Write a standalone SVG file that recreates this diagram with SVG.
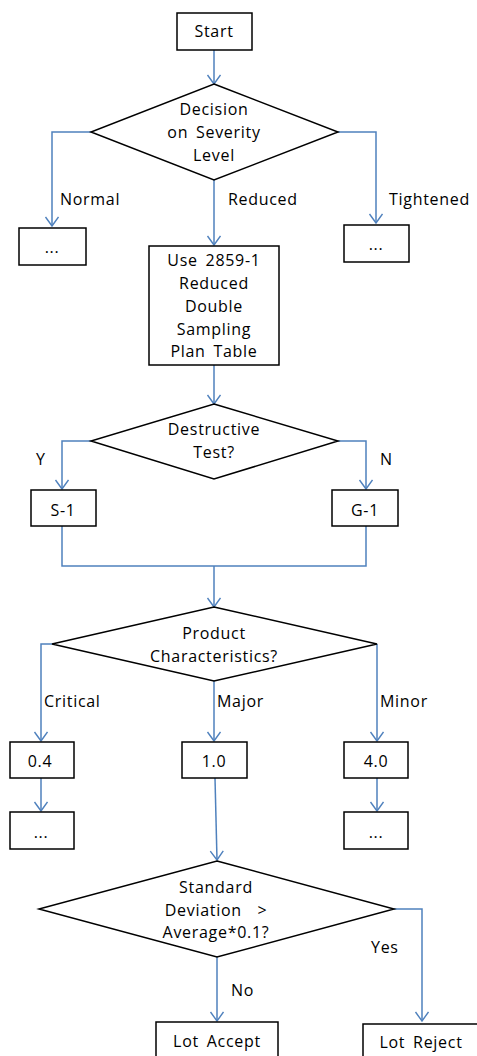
<svg xmlns="http://www.w3.org/2000/svg" width="477" height="1056" viewBox="0 0 477 1056">
<style>
.b{fill:#fff;stroke:#000;stroke-width:1.5}
.c{fill:none;stroke:#4f81bd;stroke-width:1.5}
text{font-family:"Open Sans","Noto Sans","DejaVu Sans",sans-serif;font-size:16px;fill:#000;letter-spacing:0.7px;word-spacing:3px}
.m{text-anchor:middle}
</style>
<defs>
<marker id="a" markerUnits="userSpaceOnUse" markerWidth="16" markerHeight="16" refX="10" refY="7" orient="auto">
<path d="M1,0.5 L10,7 L1,13.5" fill="none" stroke="#4f81bd" stroke-width="1.4"/>
</marker>
</defs>
<rect width="477" height="1056" fill="#fff"/>
<g id="connectors">
<path class="c" d="M214,50 V84" marker-end="url(#a)"/>
<path class="c" d="M91,132 H52 V226" marker-end="url(#a)"/>
<path class="c" d="M214,180 V245" marker-end="url(#a)"/>
<path class="c" d="M338,132 H376 V223" marker-end="url(#a)"/>
<path class="c" d="M214,365 V404" marker-end="url(#a)"/>
<path class="c" d="M91,441 H62 V489" marker-end="url(#a)"/>
<path class="c" d="M338,441 H366 V489" marker-end="url(#a)"/>
<path class="c" d="M62,526 V566 H366 V526"/>
<path class="c" d="M214,566 V607" marker-end="url(#a)"/>
<path class="c" d="M52,644 H41 V741" marker-end="url(#a)"/>
<path class="c" d="M214,681 V741" marker-end="url(#a)"/>
<path class="c" d="M377,644 V741" marker-end="url(#a)"/>
<path class="c" d="M41,778 V811" marker-end="url(#a)"/>
<path class="c" d="M377,778 V811" marker-end="url(#a)"/>
<path class="c" d="M215,778 L217,860" marker-end="url(#a)"/>
<path class="c" d="M394,909 H422 V1021" marker-end="url(#a)"/>
<path class="c" d="M217,957 V1021" marker-end="url(#a)"/>
<text x="60" y="205">Normal</text>
<text x="228" y="205">Reduced</text>
<text x="389" y="205">Tightened</text>
<text x="36" y="465">Y</text>
<text x="380" y="465">N</text>
<text x="44" y="707">Critical</text>
<text x="217" y="707">Major</text>
<text x="380" y="707">Minor</text>
<text x="371" y="953">Yes</text>
<text x="231" y="996">No</text>
</g>
<g id="start">
<rect class="b" x="177" y="13" width="75" height="37"/>
<text class="m" x="214" y="37">Start</text>
</g>
<g id="severity">
<polygon class="b" points="214,84 338,132 214,180 91,132"/>
<text class="m" x="214" y="115">Decision</text>
<text class="m" x="214" y="138">on Severity</text>
<text class="m" x="214" y="161">Level</text>
</g>
<g id="normal">
<rect class="b" x="19" y="228" width="67" height="37"/>
<text class="m" x="52" y="253">...</text>
</g>
<g id="tightened">
<rect class="b" x="344" y="225" width="65" height="37"/>
<text class="m" x="376" y="250">...</text>
</g>
<g id="reduced">
<rect class="b" x="149" y="246" width="130" height="119"/>
<text class="m" x="214" y="266">Use 2859-1</text>
<text class="m" x="214" y="289">Reduced</text>
<text class="m" x="214" y="312">Double</text>
<text class="m" x="214" y="335">Sampling</text>
<text class="m" x="214" y="357">Plan Table</text>
</g>
<g id="destructive">
<polygon class="b" points="214,404 338,441 214,479 91,441"/>
<text class="m" x="214" y="435">Destructive</text>
<text class="m" x="214" y="458">Test?</text>
</g>
<g id="s1">
<rect class="b" x="31" y="490" width="65" height="36"/>
<text class="m" x="63" y="516">S-1</text>
</g>
<g id="g1">
<rect class="b" x="332" y="490" width="66" height="36"/>
<text class="m" x="365" y="516">G-1</text>
</g>
<g id="product">
<polygon class="b" points="214,607 377,644 214,681 52,644"/>
<text class="m" x="214" y="639">Product</text>
<text class="m" x="214" y="662">Characteristics?</text>
</g>
<g id="critical">
<rect class="b" x="10" y="742" width="64" height="36"/>
<text class="m" x="40" y="767">0.4</text>
</g>
<g id="major">
<rect class="b" x="182" y="742" width="65" height="36"/>
<text class="m" x="214" y="767">1.0</text>
</g>
<g id="minor">
<rect class="b" x="344" y="742" width="64" height="36"/>
<text class="m" x="376" y="767">4.0</text>
</g>
<g id="critical-next">
<rect class="b" x="10" y="812" width="64" height="37"/>
<text class="m" x="41" y="838">...</text>
</g>
<g id="minor-next">
<rect class="b" x="344" y="812" width="64" height="37"/>
<text class="m" x="376" y="838">...</text>
</g>
<g id="stddev">
<polygon class="b" points="217,861 394,909 217,957 39,909"/>
<text class="m" x="216" y="893">Standard</text>
<text class="m" x="216" y="916" style="white-space:pre">Deviation  &gt;</text>
<text class="m" x="216" y="938">Average*0.1?</text>
</g>
<g id="accept">
<rect class="b" x="156" y="1022" width="122" height="40"/>
<text class="m" x="217" y="1047">Lot Accept</text>
</g>
<g id="reject">
<rect class="b" x="363" y="1024" width="120" height="40"/>
<text class="m" x="421" y="1048">Lot Reject</text>
</g>
</svg>
